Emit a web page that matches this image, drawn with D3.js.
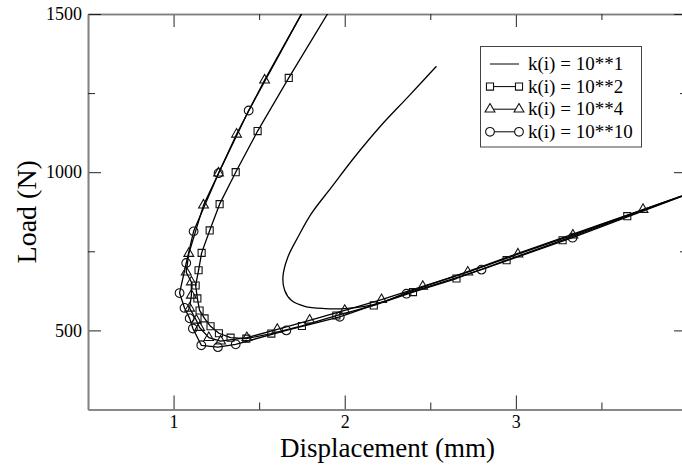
<!DOCTYPE html>
<html><head><meta charset="utf-8">
<script src="https://cdn.jsdelivr.net/npm/d3@7"></script>
<style>
body{margin:0;background:#fff}
svg{display:block}
text{font-family:"Liberation Serif","Times New Roman",serif;fill:#000}
</style>
</head><body>
<svg id="c" width="682" height="465"></svg>
<script>
// ---- data ----
const xMajor = [1, 2, 3, 4];
const xMinor = [1.5, 2.5, 3.5];
const yMajor = [500, 1000, 1500];
const yMinor = [750, 1250];
const seriesNames = ["k(i) = 10**1", "k(i) = 10**2", "k(i) = 10**4", "k(i) = 10**10"];
const seriesMarks = ["none", "square", "triangle", "circle"];

const k1X = [2.536,2.370,2.215,2.058,1.922,1.805,1.727,1.668,1.639,1.649,1.688,1.766,1.883,2.0,2.117,2.234,2.351,2.672,3.0,3.491,4.076];
const k1Y = [1335,1238,1149,1048,952,869,795,732,669,627,595,576,569,569,576,592,617,677,741,834,945];

const k2X = [1.984,1.673,1.491,1.363,1.269,1.211,1.164,1.146,1.129,1.139,1.152,1.181,1.216,1.265,1.333,1.425,1.571,1.750,1.951,2.170,2.399,2.653,2.946,3.273,3.651,4.076];
const k2Y = [1576,1298,1130,1000,899,816,745,690,642,601,563,538,513,491,477,474,490,514,547,579,621,664,722,785,861,945];

const k4X = [1.825,1.532,1.368,1.263,1.175,1.089,1.074,1.104,1.104,1.094,1.133,1.152,1.206,1.275,1.428,1.606,1.795,2.0,2.215,2.456,2.719,3.012,3.333,3.743,4.076];
const k4Y = [1576,1291,1120,997,896,743,684,653,611,570,532,509,477,466,477,503,532,563,597,639,684,741,801,882,945];

const k10X = [1.825,1.439,1.263,1.117,1.074,1.035,1.064,1.094,1.113,1.162,1.259,1.363,1.659,1.971,2.361,2.799,3.331,4.076];
const k10Y = [1576,1195,997,813,713,618,571,538,506,453,447,456,500,543,616,692,793,945];

const seriesX = [k1X, k2X, k4X, k10X];
const seriesY = [k1Y, k2Y, k4Y, k10Y];

// ---- layout ----
const svg = d3.select("#c");
const L = 88, R = 687, T = 14, B = 409.5;
const x = d3.scaleLinear().domain([0.5, 4]).range([L, R]);
const y = d3.scaleLinear().domain([250, 1500]).range([B, T]);
const spine = "#808080";
const serif = '"Liberation Serif","Times New Roman",serif';

svg.append("defs").append("clipPath").attr("id","clip")
  .append("rect").attr("x",L).attr("y",T).attr("width",R-L).attr("height",B-T);

function styleAxis(g, labels){
  g.attr("font-family", serif).attr("font-size", 18);
  g.select(".domain").attr("stroke", spine).attr("stroke-width", 1.6);
  g.selectAll(".tick line").attr("stroke", "#222").attr("stroke-width", 1);
  g.selectAll("text").attr("font-family", serif).style("font-family", serif).style("font-size","18px").attr("fill","#000");
  if(!labels) g.selectAll("text").remove();
}

// bottom
let g = svg.append("g").attr("transform",`translate(0,${B})`)
  .call(d3.axisBottom(x).tickValues(xMajor).tickSize(-14).tickSizeOuter(0).tickPadding(6).tickFormat(d3.format("d")));
styleAxis(g, true);
g = svg.append("g").attr("transform",`translate(0,${B})`)
  .call(d3.axisBottom(x).tickValues(xMinor).tickSize(-7).tickSizeOuter(0).tickFormat(""));
styleAxis(g, false);
// top
g = svg.append("g").attr("transform",`translate(0,${T})`)
  .call(d3.axisTop(x).tickValues(xMajor).tickSize(-13).tickSizeOuter(0).tickFormat(""));
styleAxis(g, false);
g = svg.append("g").attr("transform",`translate(0,${T})`)
  .call(d3.axisTop(x).tickValues(xMinor).tickSize(-6).tickSizeOuter(0).tickFormat(""));
styleAxis(g, false);
// left
g = svg.append("g").attr("transform",`translate(${L},0)`)
  .call(d3.axisLeft(y).tickValues(yMajor).tickSize(-13).tickSizeOuter(0).tickPadding(6).tickFormat(d3.format("d")));
styleAxis(g, true);
g = svg.append("g").attr("transform",`translate(${L},0)`)
  .call(d3.axisLeft(y).tickValues(yMinor).tickSize(-7).tickSizeOuter(0).tickFormat(""));
styleAxis(g, false);
// right
g = svg.append("g").attr("transform",`translate(${R},0)`)
  .call(d3.axisRight(y).tickValues(yMajor).tickSize(-13).tickSizeOuter(0).tickFormat(""));
styleAxis(g, false);
g = svg.append("g").attr("transform",`translate(${R},0)`)
  .call(d3.axisRight(y).tickValues(yMinor).tickSize(-7).tickSizeOuter(0).tickFormat(""));
styleAxis(g, false);

// ---- series ----
const plot = svg.append("g").attr("clip-path","url(#clip)");
const symType = {square: d3.symbolSquare, triangle: d3.symbolTriangle, circle: d3.symbolCircle};
const symSize = {square: 50, triangle: 42, circle: 60};

function drawMarker(sel, kind){
  sel.append("path").attr("d", d3.symbol().type(symType[kind]).size(symSize[kind])())
    .attr("fill","none").attr("stroke","#111").attr("stroke-width",1.1);
}

seriesX.forEach((xs, i) => {
  const pts = xs.map((v, j) => [v, seriesY[i][j]]);
  const line = d3.line().x(d => x(d[0])).y(d => y(d[1]))
    .curve(i === 0 ? d3.curveCatmullRom.alpha(0.5) : d3.curveLinear);
  plot.append("path").datum(pts).attr("d", line)
    .attr("fill","none").attr("stroke","#000").attr("stroke-width",1.3).attr("stroke-linejoin","round");
});
seriesX.forEach((xs, i) => {
  const kind = seriesMarks[i];
  if(kind === "none") return;
  xs.forEach((v, j) => {
    const mg = plot.append("g").attr("transform",`translate(${x(v)},${y(seriesY[i][j])})`);
    drawMarker(mg, kind);
  });
});

// ---- axis titles ----
svg.append("text").attr("x",(L+R)/2).attr("y",457).attr("text-anchor","middle")
  .style("font-size","27px").text("Displacement (mm)");
svg.append("text").attr("transform",`translate(36,${(T+B)/2}) rotate(-90)`).attr("text-anchor","middle")
  .style("font-size","28px").text("Load (N)");

// ---- legend ----
const lg = svg.append("g");
lg.append("rect").attr("x",480.5).attr("y",46.5).attr("width",161).attr("height",100.5)
  .attr("fill","#fff").attr("stroke","#444").attr("stroke-width",1);
seriesNames.forEach((name, i) => {
  const cy = 64 + i*22.6;
  lg.append("line").attr("x1",490).attr("x2",519).attr("y1",cy).attr("y2",cy)
    .attr("stroke","#000").attr("stroke-width",1);
  if(seriesMarks[i] !== "none"){
    [490, 519].forEach(px => {
      const mg = lg.append("g").attr("transform",`translate(${px},${cy})`);
      drawMarker(mg, seriesMarks[i]);
      mg.select("path").attr("fill","#fff");
    });
  }
  lg.append("text").attr("x",528).attr("y",cy+6).style("font-size","19px").text(name);
});
</script>
</body></html>
